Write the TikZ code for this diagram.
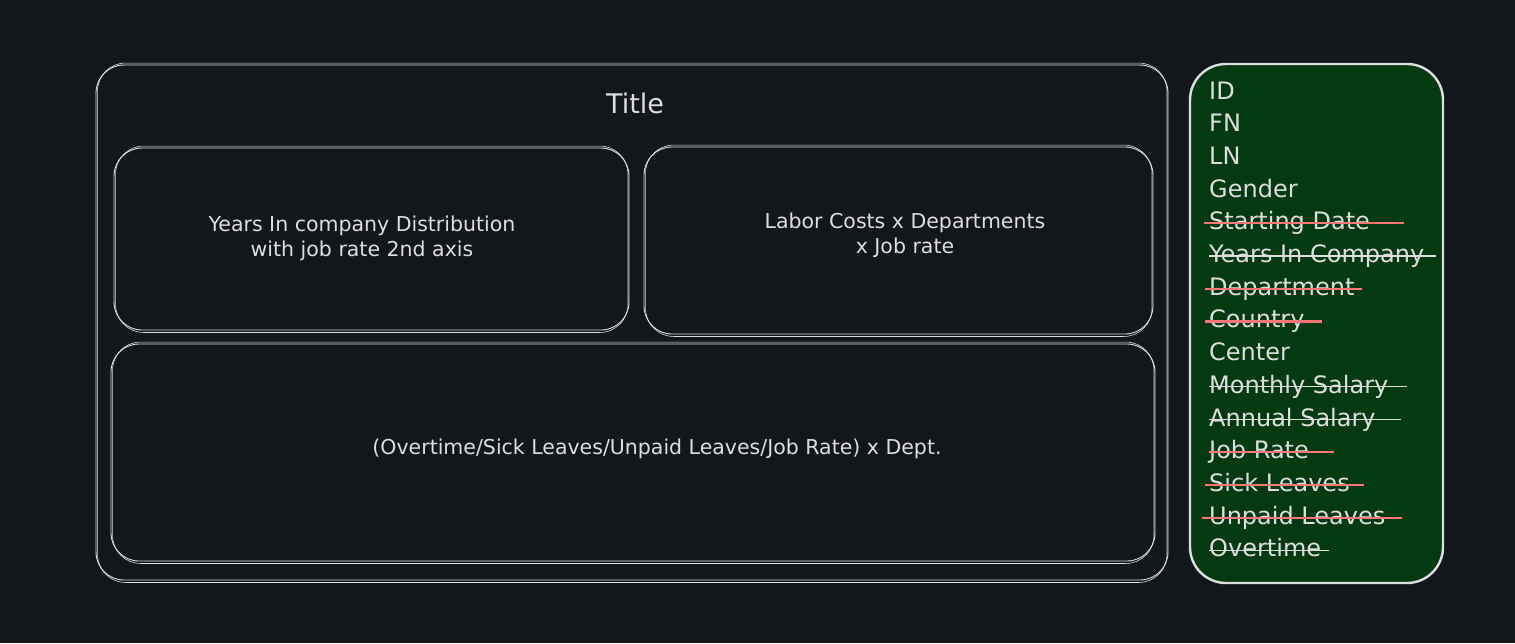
\documentclass[tikz,border=0pt]{standalone}
\usepackage{fontspec}
\setmainfont{DejaVu Sans}
\usetikzlibrary{calc,positioning}
\definecolor{bgdark}{RGB}{19,22,26}
\definecolor{pencil}{RGB}{222,222,222}
\definecolor{boardgreen}{RGB}{4,58,18}
\definecolor{strikered}{RGB}{255,118,118}

\begin{document}
\begin{tikzpicture}[x=1pt,y=-1pt,
  panel/.style={draw=pencil,line width=0.9pt,rounded corners=28pt,inner sep=0pt},
  sketch/.style={draw=pencil,line width=0.6pt,rounded corners=28pt},
  label/.style={text=pencil,font=\fontsize{20.5}{25}\selectfont,align=center},
  field/.style={text=pencil,font=\fontsize{24}{26}\selectfont,anchor=base west,inner sep=0pt},
  redline/.style={strikered,line width=2.2pt},
  greyline/.style={pencil,line width=1.1pt}]
\fill[bgdark] (0,0) rectangle (1515,643);
\useasboundingbox (0,0) rectangle (1515,643);

% dashboard panels
\node[panel,minimum width=1072pt,minimum height=515pt] (page) at (632,322.5) {};
\node[panel,minimum width=515pt,minimum height=182pt] (years) at (371.5,239) {};
\node[panel,minimum width=509pt,minimum height=187pt] (labor) at (898.5,240.5) {};
\node[panel,minimum width=1044pt,minimum height=217pt] (dept) at (633,452.5) {};
\foreach \p in {page,years,labor,dept}
  \draw[sketch] ($(\p.north west)+(2,-1.5)$) rectangle ($(\p.south east)+(-1.5,2)$);

\node[label,font=\fontsize{27}{28}\selectfont] (title) at (635,103.5) {Title};
\node[label] (yearstxt) at (362,238) {Years In company Distribution\\with job rate 2nd axis};
\node[label] (labortxt) at (905,235) {Labor Costs x Departments\\x Job rate};
\node[label] (depttxt) at (657,449) {(Overtime/Sick Leaves/Unpaid Leaves/Job Rate) x Dept.};

% column list
\node[draw=pencil,fill=boardgreen,line width=2.4pt,rounded corners=36pt,
  minimum width=253pt,minimum height=519pt] (cols) at (1316.5,323.5) {};
\foreach \n/\t [count=\i] in {id/ID,fn/FN,ln/LN,gender/Gender,sdate/Starting Date,
  yic/Years In Company,department/Department,country/Country,center/Center,
  monthly/Monthly Salary,annual/Annual Salary,jobrate/Job Rate,sick/Sick Leaves,
  unpaid/Unpaid Leaves,overtime/Overtime}
  \node[field] (\n) at (1209,{99+32.7*(\i-1)}) {\t};

% crossed out fields
\foreach \n/\s/\a/\e in {sdate/redline/-5/195,yic/greyline/0/227,department/redline/-4/153,
  country/redline/-4/113,monthly/greyline/0/198,annual/greyline/0/192,jobrate/redline/0/125,
  sick/redline/-4/155,unpaid/redline/-7/193,overtime/greyline/0/120}
  \draw[\s] ($(\n.base west)+(\a,-6.5)$) -- ($(\n.base west)+(\e,-6.5)$);
\end{tikzpicture}
\end{document}
